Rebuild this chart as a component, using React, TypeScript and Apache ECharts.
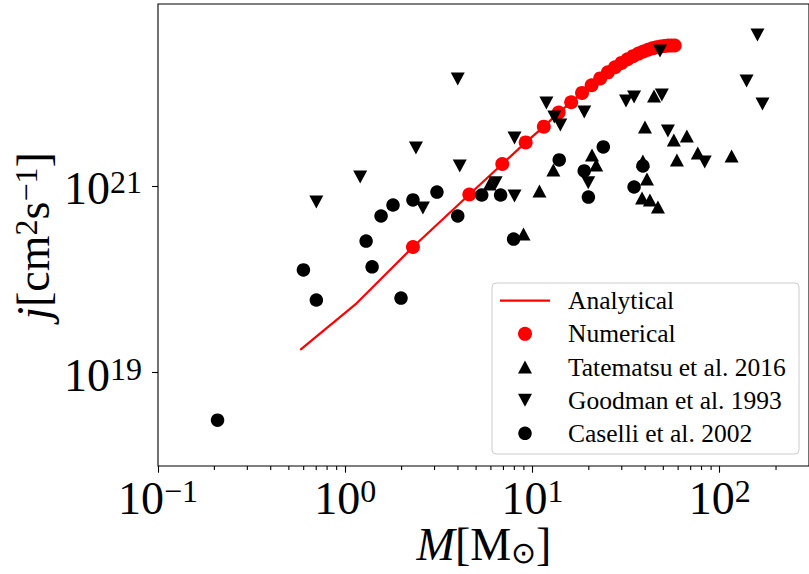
import React, { useEffect, useRef } from 'react';
import * as echarts from 'echarts';

// ---------- data ----------
const analyticalM = [0.575, 1.15, 2.3, 4.6, 6.9, 9.2, 11.5, 13.8, 16.1, 18.4, 20.7, 23.0, 25.3, 27.6, 29.9, 32.2, 34.5, 36.8, 39.1, 41.4, 43.7, 46.0, 48.3, 50.6, 52.9, 55.2, 57.5];
const analyticalJ = [1.75e19, 5.53e19, 2.22e20, 8.1e20, 1.72e21, 2.93e21, 4.32e21, 6.11e21, 7.89e21, 9.93e21, 1.2e22, 1.42e22, 1.65e22, 1.87e22, 2.08e22, 2.28e22, 2.46e22, 2.62e22, 2.76e22, 2.88e22, 2.98e22, 3.06e22, 3.12e22, 3.16e22, 3.19e22, 3.2e22, 3.2e22];

const numericalM = [2.3, 4.6, 6.9, 9.2, 11.5, 13.8, 16.1, 18.4, 20.7, 23.0, 25.3, 27.6, 29.9, 32.2, 34.5, 36.8, 39.1, 41.4, 43.7, 46.0, 48.3, 50.6, 52.9, 55.2, 57.5];
const numericalJ = [2.22e20, 8.1e20, 1.72e21, 2.93e21, 4.32e21, 6.11e21, 7.89e21, 9.93e21, 1.2e22, 1.42e22, 1.65e22, 1.87e22, 2.08e22, 2.28e22, 2.46e22, 2.62e22, 2.76e22, 2.88e22, 2.98e22, 3.06e22, 3.12e22, 3.16e22, 3.19e22, 3.2e22, 3.2e22];

const tatematsuM = [5.91, 8.96, 10.9, 12.93, 20.8, 21.9, 39.9, 38.9, 40.9, 38.5, 42.4, 46.8, 44.6, 56.9, 66.8, 59.1, 76.4, 115.8];
const tatematsuJ = [1.05e21, 3.06e20, 8.84e20, 1.48e21, 2.15e21, 1.68e21, 4.29e21, 1.85e21, 1.19e21, 7.43e20, 7.08e20, 5.96e20, 9.21e21, 3.11e21, 3.43e21, 1.9e21, 2.26e21, 2.1e21];

const goodmanM = [0.701, 1.202, 2.386, 2.6, 3.99, 4.09, 6.36, 8.02, 8.02, 11.87, 13.09, 14.09, 18.91, 19.86, 31.6, 34.9, 49.1, 48.0, 52.9, 83.2, 139.2, 159.2, 169.3];
const goodmanJ = [6.74e20, 1.25e21, 2.55e21, 5.81e20, 1.4e22, 1.64e21, 1.08e21, 7.81e20, 3.27e21, 7.74e21, 5.48e21, 4.5e21, 6.21e21, 1.08e21, 8.14e21, 8.98e21, 9.44e21, 2.79e22, 3.88e21, 1.81e21, 1.33e22, 4.15e22, 7.55e21];

const caselliM = [0.208, 0.598, 0.701, 1.293, 1.392, 1.986, 1.554, 1.8, 2.3, 3.09, 3.99, 5.36, 6.76, 7.93, 13.9, 18.9, 19.9, 23.9, 38.9, 34.9];
const caselliJ = [3.1e18, 1.26e20, 6.0e19, 2.57e20, 1.36e20, 6.3e19, 4.77e20, 6.25e20, 7.08e20, 8.6e20, 4.77e20, 8.0e20, 8.0e20, 2.7e20, 1.9e21, 1.45e21, 7.6e20, 2.62e21, 1.64e21, 9.75e20];

const xMajorTicks = [0.1, 1, 10, 100];
const xMinorTicks = [0.2, 0.3, 0.4, 0.5, 0.6, 0.7, 0.8, 0.9, 2, 3, 4, 5, 6, 7, 8, 9, 20, 30, 40, 50, 60, 70, 80, 90, 200];
const yMajorTicks = [1e19, 1e21];

const X_MIN = 0.1;
const X_MAX = 300;
const Y_MIN = 1e18;
const Y_MAX = 8.9e22;

const seriesNames = ['Analytical', 'Numerical', 'Tatematsu et al. 2016', 'Goodman et al. 1993', 'Caselli et al. 2002'];

const FONT = 'Liberation Serif';
const RED = '#ff0000';

const zip = (a: number[], b: number[]) => a.map((v, i) => [v, b[i]]);

const powLabel = (v: number) => {
  const e = Math.round(Math.log10(v));
  return `{b|10}{s|${e < 0 ? '\u2212' + -e : e}}`;
};

const tickRich = {
  b: { fontFamily: FONT, fontSize: 46, lineHeight: 46, color: '#000' },
  s: { fontFamily: FONT, fontSize: 32, lineHeight: 32, verticalAlign: 'top', color: '#000' },
};

// legend layout (box at 492,283; rows 33.15 px apart)
const LEG_X = 492;
const LEG_Y = 283;
const ROW0 = 17.7;
const ROW_GAP = 33.15;
const ICON_CX = 33;
const TEXT_X = 76;

function legendGraphic() {
  const rowY = (i: number) => ROW0 + i * ROW_GAP;
  const icons: any[] = [
    { type: 'line', shape: { x1: 8, y1: rowY(0), x2: 58, y2: rowY(0) }, style: { stroke: RED, lineWidth: 2.2 } },
    { type: 'circle', shape: { cx: ICON_CX, cy: rowY(1), r: 7 }, style: { fill: RED } },
    {
      type: 'polygon',
      shape: { points: [[ICON_CX - 7, rowY(2) + 6.5], [ICON_CX, rowY(2) - 6.5], [ICON_CX + 7, rowY(2) + 6.5]] },
      style: { fill: '#000' },
    },
    {
      type: 'polygon',
      shape: { points: [[ICON_CX - 7, rowY(3) - 6.5], [ICON_CX + 7, rowY(3) - 6.5], [ICON_CX, rowY(3) + 6.5]] },
      style: { fill: '#000' },
    },
    { type: 'circle', shape: { cx: ICON_CX, cy: rowY(4), r: 6.75 }, style: { fill: '#000' } },
  ];
  const texts = seriesNames.map((name, i) => ({
    type: 'text',
    x: TEXT_X,
    y: rowY(i),
    style: {
      text: `{t|${name}}`,
      fontFamily: FONT,
      fontSize: 25,
      fill: '#000',
      align: 'left',
      verticalAlign: 'middle',
      rich: {
        t: { fontFamily: FONT, fontSize: 25.5, lineHeight: 30, fill: '#000' },
      },
    },
  }));
  return {
    type: 'group',
    x: LEG_X,
    y: LEG_Y,
    z: 100,
    silent: true,
    children: [
      {
        type: 'rect',
        shape: { x: 0, y: 0, width: 307, height: 171, r: 4 },
        style: { fill: 'rgba(255,255,255,0.8)', stroke: '#cccccc', lineWidth: 1 },
      },
      ...icons,
      ...texts,
    ],
  };
}

export default function App() {
  const ref = useRef<HTMLDivElement>(null);

  useEffect(() => {
    if (!ref.current) return;
    const chart = echarts.init(ref.current, null, { renderer: 'svg' });

    const option: any = {
      animation: false,
      backgroundColor: '#ffffff',
      textStyle: { fontFamily: FONT },
      grid: {
        left: 158,
        top: 4,
        right: -3,
        bottom: 108,
        show: true,
        borderColor: '#000',
        borderWidth: 1.1,
        backgroundColor: 'transparent',
      },
      xAxis: {
        type: 'log',
        logBase: 10,
        min: X_MIN,
        max: X_MAX,
        axisLine: { show: false },
        splitLine: { show: false },
        minorTick: { show: false },
        axisTick: {
          show: true,
          customValues: xMajorTicks,
          length: 6.7,
          lineStyle: { color: '#000', width: 1.1 },
        },
        axisLabel: {
          customValues: xMajorTicks,
          formatter: powLabel,
          margin: 9,
          rich: tickRich,
        },
      },
      yAxis: {
        type: 'log',
        logBase: 10,
        min: Y_MIN,
        max: Y_MAX,
        axisLine: { show: false },
        splitLine: { show: false },
        minorTick: { show: false },
        axisTick: {
          show: true,
          customValues: yMajorTicks,
          length: 6,
          lineStyle: { color: '#000', width: 1.1 },
        },
        axisLabel: {
          customValues: yMajorTicks,
          formatter: powLabel,
          margin: 16,
          padding: [6, 0, 0, 0],
          rich: tickRich,
        },
      },
      graphic: [
        {
          type: 'text',
          x: 484,
          y: 544.5,
          silent: true,
          style: {
            text: '{i|M}{r|[M}{sub|\u2299}{r|]}',
            align: 'center',
            verticalAlign: 'middle',
            fontFamily: FONT,
            fontSize: 46,
            fill: '#000',
            rich: {
              i: { fontFamily: FONT, fontSize: 46, fontStyle: 'italic', lineHeight: 46, fill: '#000' },
              r: { fontFamily: FONT, fontSize: 46, lineHeight: 46, fill: '#000' },
              sub: { fontFamily: FONT, fontSize: 30, lineHeight: 16, verticalAlign: 'bottom', fill: '#000' },
            },
          },
        },
        {
          type: 'text',
          x: 33,
          y: 236,
          rotation: Math.PI / 2,
          silent: true,
          style: {
            text: '{i|j}{r|[cm}{sup|2}{r|s}{sup|\u22121}{r|]}',
            align: 'center',
            verticalAlign: 'middle',
            fontFamily: FONT,
            fontSize: 46,
            fill: '#000',
            rich: {
              i: { fontFamily: FONT, fontSize: 46, fontStyle: 'italic', lineHeight: 46, fill: '#000' },
              r: { fontFamily: FONT, fontSize: 46, lineHeight: 46, fill: '#000' },
              sup: { fontFamily: FONT, fontSize: 32, lineHeight: 30, verticalAlign: 'top', fill: '#000' },
            },
          },
        },
        legendGraphic(),
      ],
      series: [
        {
          name: seriesNames[0],
          type: 'line',
          data: zip(analyticalM, analyticalJ),
          symbol: 'none',
          silent: true,
          lineStyle: { color: RED, width: 2.2 },
          itemStyle: { color: RED },
          z: 2,
        },
        {
          name: seriesNames[1],
          type: 'scatter',
          data: zip(numericalM, numericalJ),
          symbol: 'circle',
          symbolSize: 14,
          silent: true,
          itemStyle: { color: RED, opacity: 1 },
          z: 3,
        },
        {
          name: seriesNames[2],
          type: 'scatter',
          data: zip(tatematsuM, tatematsuJ),
          symbol: 'triangle',
          symbolSize: [14, 13],
          silent: true,
          itemStyle: { color: '#000', opacity: 1 },
          z: 4,
        },
        {
          name: seriesNames[3],
          type: 'scatter',
          data: zip(goodmanM, goodmanJ),
          symbol: 'triangle',
          symbolRotate: 180,
          symbolSize: [14, 13],
          silent: true,
          itemStyle: { color: '#000', opacity: 1 },
          z: 5,
        },
        {
          name: seriesNames[4],
          type: 'scatter',
          data: zip(caselliM, caselliJ),
          symbol: 'circle',
          symbolSize: 13.5,
          silent: true,
          itemStyle: { color: '#000', opacity: 1 },
          z: 6,
        },
        {
          name: 'minorTicks',
          type: 'custom',
          silent: true,
          clip: false,
          data: xMinorTicks.map((v) => [v, Y_MIN]),
          renderItem: (_params: any, api: any) => {
            const p = api.coord([api.value(0), api.value(1)]);
            return {
              type: 'line',
              shape: { x1: p[0], y1: p[1], x2: p[0], y2: p[1] + 4 },
              style: { stroke: '#000', lineWidth: 1.1 },
            };
          },
          z: 7,
        },
      ],
    };

    chart.setOption(option);
    return () => chart.dispose();
  }, []);

  return (
    <div
      ref={ref}
      style={{ position: 'fixed', left: 0, top: 0, width: 809, height: 574, background: '#fff' }}
    />
  );
}
